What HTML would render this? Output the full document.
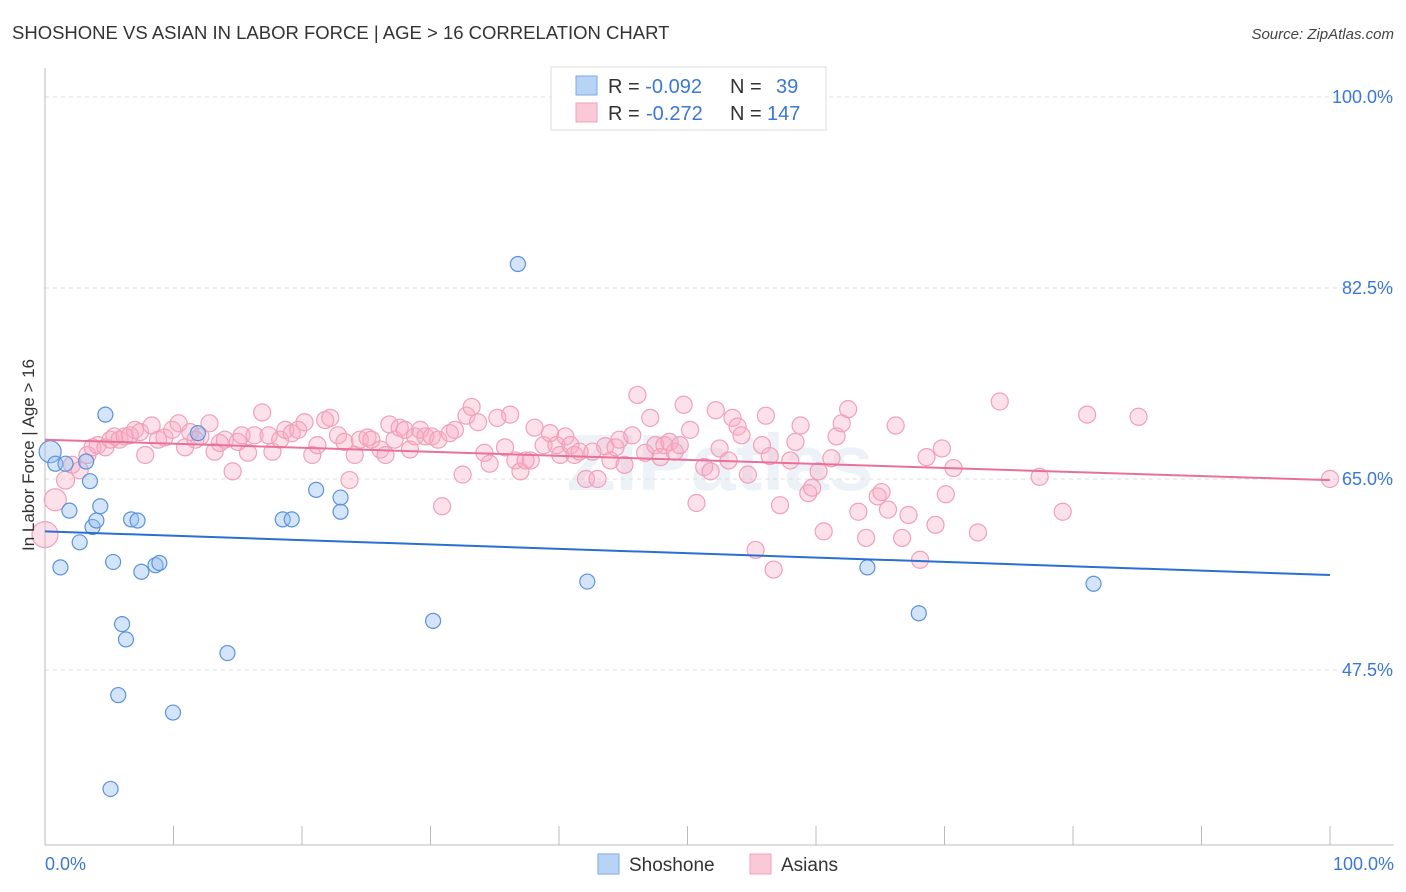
<!DOCTYPE html>
<html><head><meta charset="utf-8"><style>
body{margin:0;background:#fff;font-family:"Liberation Sans",sans-serif;}
svg{display:block}
</style></head><body>
<svg id="chart" width="1406" height="892" xmlns="http://www.w3.org/2000/svg" font-family="Liberation Sans, sans-serif">
<text x="12" y="39" font-size="18.5" fill="#333">SHOSHONE VS ASIAN IN LABOR FORCE | AGE &gt; 16 CORRELATION CHART</text>
<text x="1394" y="39" font-size="15" fill="#444" text-anchor="end" font-style="italic">Source: ZipAtlas.com</text>
<text x="720" y="490" font-size="80" fill="#edf2f8" text-anchor="middle" font-weight="bold">ZIPatlas</text>
<g id="grid"></g>
<g id="axes"></g>
<g id="marks"></g>
<text transform="translate(34,455) rotate(-90)" font-size="17" fill="#333" text-anchor="middle">In Labor Force | Age &gt; 16</text>
<g>
<rect x="551" y="67" width="275" height="63" fill="#fff" stroke="#ddd"/>
<rect x="576" y="76" width="21" height="19" fill="#b8d4f5" stroke="#7aaae6"/>
<rect x="576" y="103" width="21" height="19" fill="#fac8d6" stroke="#f0a0b8"/>
<text x="608" y="93" font-size="20" fill="#333">R = <tspan fill="#3a78d4">-0.092</tspan><tspan x="730">N = </tspan><tspan x="776" fill="#3a78d4">39</tspan></text>
<text x="608" y="120" font-size="20" fill="#333">R = <tspan x="646" fill="#3a78d4">-0.272</tspan><tspan x="730">N = </tspan><tspan x="767" fill="#3a78d4">147</tspan></text>
</g>
<g>
<rect x="598" y="854" width="21" height="20" fill="#b8d4f5" stroke="#7aaae6"/>
<text x="629" y="871" font-size="19" fill="#333">Shoshone</text>
<rect x="750" y="854" width="21" height="20" fill="#fac8d6" stroke="#f0a0b8"/>
<text x="781" y="871" font-size="19" fill="#333">Asians</text>
</g>
</svg>
<script>
const yTicks=[47.5,65.0,82.5,100.0];
const yTickLabels=["47.5%","65.0%","82.5%","100.0%"];
const xTicks=[0,10,20,30,40,50,60,70,80,90,100];
const shoshoneX=[0.4,0.8,1.6,3.2,1.2,1.9,3.5,3.7,4.0,4.3,2.7,4.7,5.3,6.0,6.3,5.7,5.1,6.7,7.2,7.5,8.6,8.9,9.96,11.9,14.2,18.5,19.2,21.1,23.0,23.0,30.2,36.8,42.2,64.0,68.0,81.6];
const shoshoneY=[67.5,66.4,66.4,66.6,56.9,62.1,64.8,60.6,61.2,62.5,59.2,70.9,57.4,51.7,50.3,45.2,36.6,61.3,61.2,56.5,57.1,57.3,43.6,69.2,49.05,61.3,61.3,64.0,63.3,62.0,52.0,84.7,55.6,56.9,52.7,55.4];
const asianX=[0,0.8,1.6,2.1,2.7,3.3,3.7,4.1,4.7,5.1,5.4,5.8,6.2,6.6,7.0,7.4,7.8,8.3,8.8,9.3,9.9,10.4,10.9,11.3,11.7,12.1,12.8,13.2,13.6,14.0,14.6,15.0,15.3,15.8,16.3,16.9,17.4,17.7,18.3,18.7,19.2,19.7,20.2,20.8,21.2,21.8,22.2,22.8,23.3,23.7,24.1,24.5,25.1,25.4,26.1,26.5,26.8,27.2,27.6,28.0,28.4,28.8,29.2,29.6,30.1,30.6,30.9,31.5,31.9,32.5,32.8,33.2,33.7,34.2,34.6,35.2,35.8,36.2,36.6,37.0,37.4,37.8,38.1,38.8,39.3,39.8,40.1,40.5,40.9,41.2,41.6,42.1,42.6,43.0,43.6,44.0,44.4,44.7,45.1,45.7,46.1,46.7,47.1,47.5,47.9,48.2,48.6,49.0,49.4,49.7,50.2,50.7,51.3,51.8,52.2,52.5,53.2,53.5,53.9,54.2,54.7,55.3,55.8,56.1,56.4,56.7,57.2,58.0,58.4,58.8,59.4,59.7,60.2,60.6,61.2,61.6,62.0,62.5,63.3,63.9,64.8,65.1,65.6,66.2,66.7,67.2,68.1,68.6,69.3,69.8,70.1,70.7,72.6,74.3,77.4,79.2,81.1,85.1,100];
const asianY=[59.9,63.1,64.9,66.3,65.8,67.2,67.9,68.1,67.9,68.6,68.9,68.6,68.9,69.0,69.5,69.3,67.2,69.9,68.6,68.8,69.5,70.1,67.9,69.3,68.6,68.9,70.1,67.5,68.3,68.6,65.7,68.4,69.0,67.4,69.0,71.1,69.0,67.5,68.6,69.5,69.2,69.5,70.2,67.2,68.1,70.4,70.6,69.0,68.4,64.9,67.2,68.6,68.8,68.6,67.7,67.2,70.0,68.6,69.7,69.5,67.7,68.9,69.5,68.9,68.9,68.6,62.5,69.2,69.5,65.4,70.8,71.6,70.2,67.4,66.4,70.6,67.9,70.9,66.7,65.7,66.7,66.7,69.7,68.1,69.2,68.1,67.2,68.9,68.1,67.2,67.5,65.0,67.5,65.0,68.0,66.7,67.9,68.6,66.3,69.0,72.7,67.4,70.6,68.1,67.0,68.1,68.4,67.5,68.1,71.8,69.5,62.8,66.1,65.7,71.3,67.8,66.7,70.6,69.8,69.0,65.4,58.5,68.1,70.8,67.1,56.7,62.6,66.7,68.4,69.9,63.7,64.2,65.7,60.2,66.9,68.9,70.1,71.4,62.0,59.6,63.4,63.8,62.2,69.9,59.6,61.7,57.6,67.0,60.8,67.8,63.6,66.0,60.1,72.1,65.2,62.0,70.9,70.7,65.0];
const shoshoneTrend=[60.2,56.2];
const asianTrend=[68.6,64.9];
const NS="http://www.w3.org/2000/svg";
const X0=45,X1=1330,Ytop=97,pxPerPct=10.914;
function sx(v){return X0+(X1-X0)*v/100;}
function sy(v){return Ytop+(100-v)*pxPerPct;}
function el(tag,attrs,parent){const e=document.createElementNS(NS,tag);for(const k in attrs)e.setAttribute(k,attrs[k]);parent.appendChild(e);return e;}
const grid=document.getElementById('grid'),axes=document.getElementById('axes'),marks=document.getElementById('marks');
yTicks.forEach((t,i)=>{
 const l=el('line',{x1:45,x2:1394,y1:sy(t),y2:sy(t),stroke:'#ddd','stroke-dasharray':'4,4'},grid);
 
 
 const tx=el('text',{x:1393,y:sy(t)+6,'font-size':18,fill:'#3a78d4','text-anchor':'end'},axes);
 tx.textContent=yTickLabels[i];
 
 
});
const ax=el('line',{x1:45,x2:1394,y1:845,y2:845,stroke:'#bbb'},axes);


const ay=el('line',{x1:45,x2:45,y1:68,y2:845,stroke:'#bbb'},axes);


xTicks.forEach(t=>{
 const l=el('line',{x1:sx(t),x2:sx(t),y1:826,y2:845,stroke:'#bbb'},axes);
 
 
});
const xl=el('text',{x:45,y:870,'font-size':18,fill:'#3a78d4'},axes);xl.textContent='0.0%';


const xr=el('text',{x:1394,y:870,'font-size':18,fill:'#3a78d4','text-anchor':'end'},axes);xr.textContent='100.0%';


asianX.forEach((x,i)=>{
 const r=i<3?13-i*2:8.5;
 const c=el('circle',{cx:sx(x),cy:sy(asianY[i]),r:r,fill:'rgba(248,170,195,0.35)',stroke:'#f0a0b8','stroke-width':1.2},marks);
 
 
});
shoshoneX.forEach((x,i)=>{
 const r=i===0?11:7.5;
 const c=el('circle',{cx:sx(x),cy:sy(shoshoneY[i]),r:r,fill:'rgba(150,190,240,0.4)',stroke:'#5a92dc','stroke-width':1.2},marks);
 
 
});
const tb=el('line',{x1:sx(0),x2:sx(100),y1:sy(shoshoneTrend[0]),y2:sy(shoshoneTrend[1]),stroke:'#2a70d0','stroke-width':2},marks);


const tp=el('line',{x1:sx(0),x2:sx(100),y1:sy(asianTrend[0]),y2:sy(asianTrend[1]),stroke:'#e8709a','stroke-width':2},marks);


</script>
</body></html>
